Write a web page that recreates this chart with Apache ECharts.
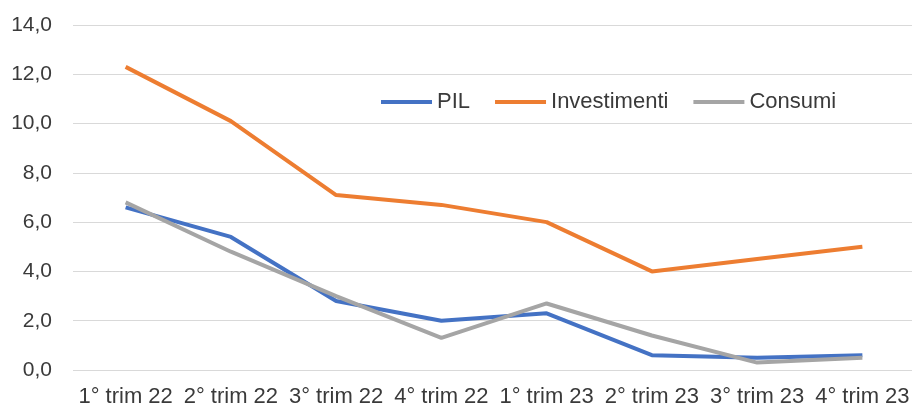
<!DOCTYPE html>
<html>
<head>
<meta charset="utf-8">
<script src="https://cdn.jsdelivr.net/npm/echarts@6/dist/echarts.min.js"></script>
<style>
    html, body { margin: 0; padding: 0; background: #fff; }
    #chart1 { width: 912px; height: 405px; }
</style>
</head>
<body>
<div id="chart1"></div>
<script>
    // trimestri
    var categories = ['1° trim 22', '2° trim 22', '3° trim 22', '4° trim 22', '1° trim 23', '2° trim 23', '3° trim 23', '4° trim 23'];
    var pil = [6.6, 5.4, 2.8, 2.0, 2.3, 0.6, 0.5, 0.6];
    var investimenti = [12.3, 10.1, 7.1, 6.7, 6.0, 4.0, 4.5, 5.0];
    var consumi = [6.8, 4.8, 3.0, 1.3, 2.7, 1.4, 0.3, 0.5];

    var textColor = '#3a3a3a';
    var fontFamily = '"Liberation Sans", Arial, sans-serif';

    var myChart = echarts.init(document.getElementById('chart1'));
    var option = {
        animation: false,
        textStyle: { fontFamily: fontFamily },
        legend: {
            left: 376,
            top: 86,
            itemWidth: 51,
            itemHeight: 4,
            itemGap: 25,
            icon: 'rect',
            textStyle: { color: textColor, fontSize: 22, fontFamily: fontFamily },
            data: ['PIL', 'Investimenti', 'Consumi']
        },
        grid: {
            left: 73,
            right: -3,
            top: 25,
            bottom: 35,
            outerBoundsMode: 'none'
        },
        xAxis: {
            type: 'category',
            boundaryGap: true,
            data: categories,
            axisLine: { show: false },
            axisTick: { show: false },
            axisLabel: { color: textColor, fontSize: 22, margin: 16, interval: 0, fontFamily: fontFamily }
        },
        yAxis: {
            type: 'value',
            min: 0,
            max: 14,
            interval: 2,
            axisLine: { show: false },
            axisTick: { show: false },
            splitLine: { lineStyle: { color: '#D9D9D9', width: 1 } },
            axisLabel: {
                color: textColor,
                fontSize: 21,
                margin: 21,
                fontFamily: fontFamily,
                formatter: function (v) { return v.toFixed(1).replace('.', ','); }
            }
        },
        series: [
            {
                name: 'PIL',
                type: 'line',
                data: pil,
                symbol: 'none',
                itemStyle: { color: '#4472C4' },
                lineStyle: { color: '#4472C4', width: 4 }
            },
            {
                name: 'Investimenti',
                type: 'line',
                data: investimenti,
                symbol: 'none',
                itemStyle: { color: '#ED7D31' },
                lineStyle: { color: '#ED7D31', width: 4 }
            },
            {
                name: 'Consumi',
                type: 'line',
                data: consumi,
                symbol: 'none',
                itemStyle: { color: '#A5A5A5' },
                lineStyle: { color: '#A5A5A5', width: 4 }
            }
        ]
    };
    myChart.setOption(option);
</script>
</body>
</html>
